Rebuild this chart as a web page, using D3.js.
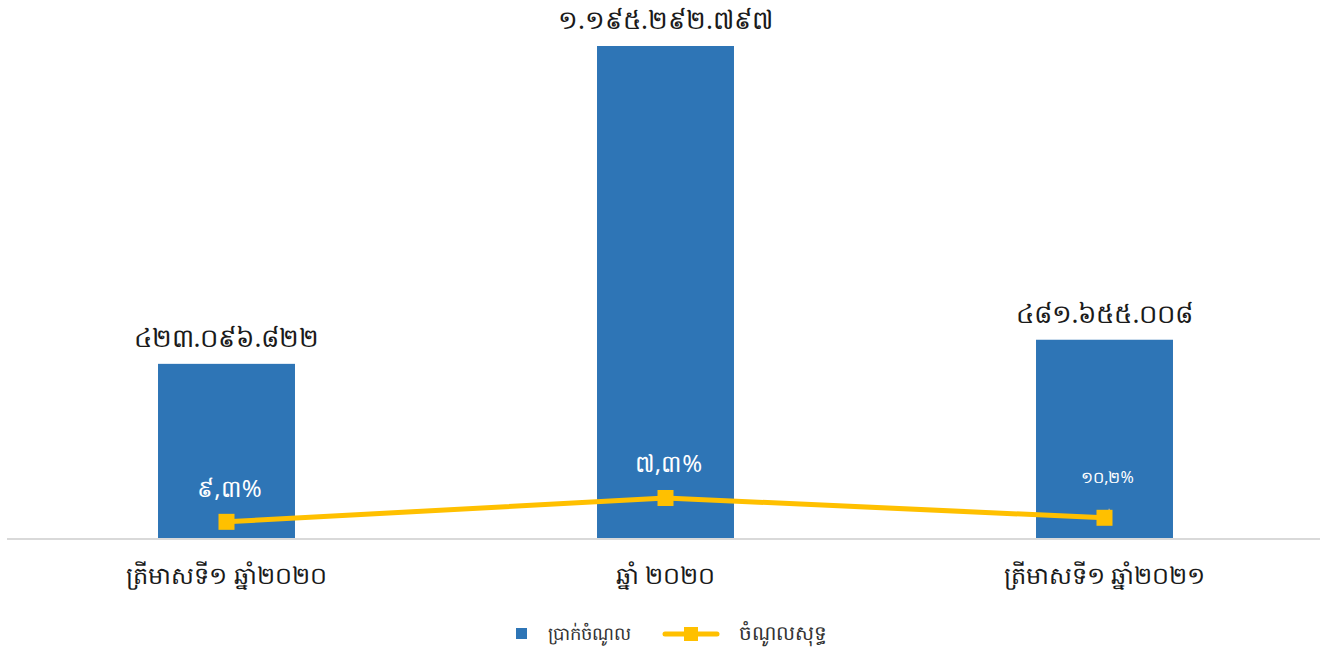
<!DOCTYPE html>
<html>
<head>
<meta charset="utf-8">
<script src="https://cdn.jsdelivr.net/npm/d3@7"></script>
<style>
  html, body { margin: 0; padding: 0; background: #fff; }
  svg { display: block; font-family: "Noto Sans", "DejaVu Sans", sans-serif; }
</style>
</head>
<body>
<svg id="chart" width="1325" height="656"></svg>
<script>
// ---- data ----
const categories = ["ត្រីមាសទី១ ឆ្នាំ២០២០", "ឆ្នាំ ២០២០", "ត្រីមាសទី១ ឆ្នាំ២០២១"];
const revenue = [423096822, 1195292797, 481655008];
const revenueLabels = ["៤២៣.០៩៦.៨២២", "១.១៩៥.២៩២.៧៩៧", "៤៨១.៦៥៥.០០៨"];
const netIncome = [39300000, 97200000, 49100000];
const netIncomeLabels = ["៩,៣%", "៧,៣%", "១០,២%"];
const seriesNames = ["ប្រាក់ចំណូល", "ចំណូលសុទ្ធ"];

// ---- layout ----
const svg = d3.select("#chart");
const baseY = 538;

const x = d3.scaleBand()
  .domain(categories)
  .range([7, 1324])
  .paddingInner(0.688)
  .paddingOuter(0.344);

const y = d3.scaleLinear()
  .domain([0, 1195292797])
  .range([baseY, 46]);

const barColor = "#2e75b6";
const lineColor = "#ffc000";

// bars
svg.append("g").selectAll("rect")
  .data(categories)
  .join("rect")
  .attr("x", d => x(d))
  .attr("width", x.bandwidth())
  .attr("y", (d, i) => y(revenue[i]))
  .attr("height", (d, i) => baseY - y(revenue[i]))
  .attr("fill", barColor);

// axis line
svg.append("line")
  .attr("x1", 7).attr("x2", 1320)
  .attr("y1", baseY + 1).attr("y2", baseY + 1)
  .attr("stroke", "#d9d9d9").attr("stroke-width", 2);

// revenue labels
svg.append("g").selectAll("text")
  .data(categories)
  .join("text")
  .attr("x", d => x(d) + x.bandwidth() / 2)
  .attr("y", (d, i) => y(revenue[i]) - 17)
  .attr("text-anchor", "middle")
  .attr("font-size", 26)
  .attr("fill", "#1a1a1a")
  .text((d, i) => revenueLabels[i]);

// category labels
const xAxis = d3.axisBottom(x).tickSize(0).tickPadding(29);
const gx = svg.append("g")
  .attr("transform", `translate(0,${baseY})`)
  .call(xAxis);
gx.select(".domain").remove();
gx.selectAll("text")
  .attr("font-size", 24)
  .attr("fill", "#1a1a1a")
  .attr("font-family", "'Noto Sans', 'DejaVu Sans', sans-serif");

// line
const cx = d => x(d) + x.bandwidth() / 2;
const line = d3.line()
  .x(d => cx(d.c))
  .y(d => y(d.v));
const lineData = categories.map((c, i) => ({ c, v: netIncome[i] }));

svg.append("path")
  .datum(lineData)
  .attr("d", line)
  .attr("fill", "none")
  .attr("stroke", lineColor)
  .attr("stroke-width", 5);

// leader line for third label
svg.append("line")
  .attr("x1", cx(categories[2]) + 2).attr("y1", y(netIncome[2]) - 2)
  .attr("x2", cx(categories[2]) + 5).attr("y2", y(netIncome[2]) - 9)
  .attr("stroke", "#a6a6a6").attr("stroke-width", 1.5);

svg.append("g").selectAll("rect")
  .data(lineData)
  .join("rect")
  .attr("x", d => cx(d.c) - 8)
  .attr("y", d => y(d.v) - 8)
  .attr("width", 16).attr("height", 16)
  .attr("fill", lineColor);

// percent labels
const pctOffsets = [-25, -26, -35];
const pctSizes = [24, 24, 16];
svg.append("g").selectAll("text")
  .data(lineData)
  .join("text")
  .attr("x", (d, i) => cx(d.c) + 3)
  .attr("y", (d, i) => y(d.v) + pctOffsets[i])
  .attr("text-anchor", "middle")
  .attr("font-size", (d, i) => pctSizes[i])
  .attr("fill", "#ffffff")
  .text((d, i) => netIncomeLabels[i]);

// legend
const lg = svg.append("g").attr("transform", "translate(0,634)");
lg.append("rect").attr("x", 516).attr("y", -6).attr("width", 11).attr("height", 11).attr("fill", barColor);
lg.append("text").attr("x", 548).attr("y", 6).attr("font-size", 18).attr("fill", "#333")
  .text(seriesNames[0]);
lg.append("line").attr("x1", 665).attr("x2", 717).attr("y1", 0).attr("y2", 0)
  .attr("stroke", lineColor).attr("stroke-width", 5).attr("stroke-linecap", "round");
lg.append("rect").attr("x", 684).attr("y", -7).attr("width", 14).attr("height", 14).attr("fill", lineColor);
lg.append("text").attr("x", 739).attr("y", 6).attr("font-size", 20).attr("fill", "#333")
  .text(seriesNames[1]);
</script>
</body>
</html>
